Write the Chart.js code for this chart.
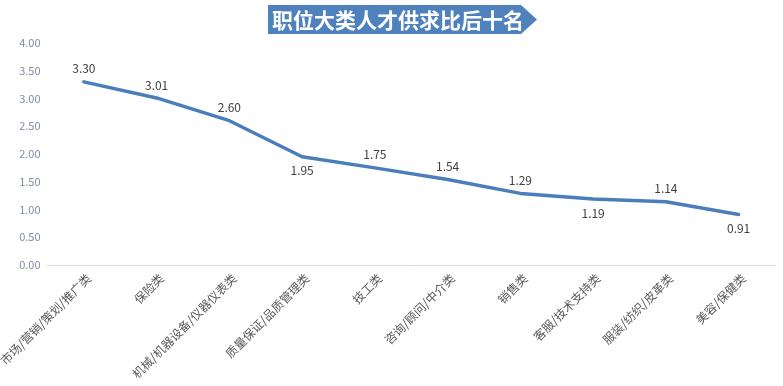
<!DOCTYPE html>
<html>
<head>
<meta charset="utf-8">
<script src="https://cdn.jsdelivr.net/npm/chart.js@4/dist/chart.umd.min.js"></script>
<style>
  html, body { margin: 0; padding: 0; background: #fff; }
  #wrap { width: 783px; height: 386px; position: relative; }
</style>
</head>
<body>
<div id="wrap"><canvas id="supplyChart"></canvas></div>
<script>
const title = '职位大类人才供求比后十名';
const categories = [
  '市场/营销/策划/推广类',
  '保险类',
  '机械/机器设备/仪器仪表类',
  '质量保证/品质管理类',
  '技工类',
  '咨询/顾问/中介类',
  '销售类',
  '客服/技术支持类',
  '服装/纺织/皮革类',
  '美容/保健类'
];
const ratios = [3.30, 3.01, 2.60, 1.95, 1.75, 1.54, 1.29, 1.19, 1.14, 0.91];
const yTicks = [0, 0.5, 1, 1.5, 2, 2.5, 3, 3.5, 4];

// where each value label sits relative to its point
const labelSide = ['up', 'up', 'up', 'down', 'up', 'up', 'up', 'down', 'up', 'down'];

const FONT = '"Microsoft YaHei", "Noto Sans CJK SC", sans-serif';

const bannerPlugin = {
  id: 'banner',
  afterDraw(chart) {
    const ctx = chart.ctx;
    const x0 = 268, x1 = 521, tip = 537, y0 = 5, y1 = 34;
    ctx.save();
    ctx.fillStyle = '#4F81BD';
    ctx.beginPath();
    ctx.moveTo(x0, y0);
    ctx.lineTo(x1, y0);
    ctx.lineTo(tip, (y0 + y1) / 2);
    ctx.lineTo(x1, y1);
    ctx.lineTo(x0, y1);
    ctx.closePath();
    ctx.fill();
    ctx.fillStyle = '#ffffff';
    ctx.font = 'bold 21px "Noto Sans CJK SC", sans-serif';
    ctx.textAlign = 'left';
    ctx.textBaseline = 'middle';
    ctx.fillText(title, x0 + 4, (y0 + y1) / 2 + 1);
    ctx.restore();
  }
};

const valueLabels = {
  id: 'valueLabels',
  afterDatasetsDraw(chart) {
    const ctx = chart.ctx;
    const meta = chart.getDatasetMeta(0);
    ctx.save();
    ctx.font = '12px ' + FONT;
    ctx.fillStyle = '#404040';
    ctx.textAlign = 'center';
    ctx.textBaseline = 'middle';
    meta.data.forEach((pt, i) => {
      const dy = labelSide[i] === 'up' ? -13 : 14;
      ctx.fillText(ratios[i].toFixed(2), pt.x, pt.y + dy);
    });
    ctx.restore();
  }
};

new Chart(document.getElementById('supplyChart'), {
  type: 'line',
  data: {
    labels: categories,
    datasets: [{
      data: ratios,
      borderColor: '#4A7EBB',
      borderWidth: 3.5,
      borderJoinStyle: 'round',
      borderCapStyle: 'round',
      pointRadius: 0,
      tension: 0,
      fill: false
    }]
  },
  options: {
    responsive: true,
    maintainAspectRatio: false,
    animation: false,
    layout: { padding: { top: 43, left: 0, right: 8, bottom: 0 } },
    plugins: {
      legend: { display: false },
      tooltip: { enabled: false }
    },
    scales: {
      x: {
        offset: true,
        afterFit(axis) {
          axis.paddingLeft = 0;
          axis.paddingRight = 0;
          axis.height = 121;
        },
        grid: { display: false, drawTicks: false },
        border: { display: true, color: '#D9D9D9', width: 1 },
        ticks: {
          minRotation: 45,
          maxRotation: 45,
          autoSkip: false,
          padding: 6,
          labelOffset: 5,
          color: '#595959',
          font: { size: 12, family: FONT }
        }
      },
      y: {
        min: 0,
        max: 4,
        afterBuildTicks(axis) { axis.ticks = yTicks.map(v => ({ value: v })); },
        afterFit(axis) { axis.width = 47.5; },
        grid: { display: false, drawTicks: false },
        border: { display: false },
        ticks: {
          padding: 7,
          color: '#7F8CA0',
          font: { size: 11, family: FONT },
          callback: v => Number(v).toFixed(2)
        }
      }
    }
  },
  plugins: [bannerPlugin, valueLabels]
});
</script>
</body>
</html>
